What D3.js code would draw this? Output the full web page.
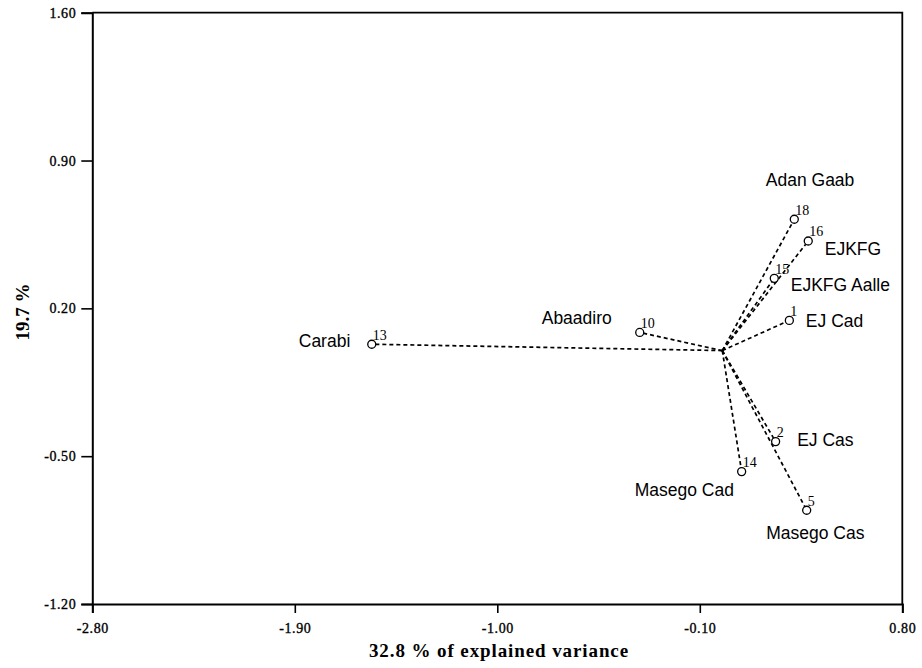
<!DOCTYPE html>
<html>
<head>
<meta charset="utf-8">
<script src="https://cdn.jsdelivr.net/npm/d3@7/dist/d3.min.js"></script>
<style>
  html, body { margin: 0; padding: 0; background: #fff; }
  svg { display: block; }
</style>
</head>
<body>
<svg id="chart" width="922" height="668"></svg>
<script>
// ---- data ----
const ids    = ["13", "10", "18", "16", "15", "1", "2", "14", "5"];
const names  = ["Carabi", "Abaadiro", "Adan Gaab", "EJKFG", "EJKFG Aalle", "EJ Cad", "EJ Cas", "Masego Cad", "Masego Cas"];
const pc1    = [-1.558, -0.367, 0.320, 0.382, 0.231, 0.298, 0.237, 0.086, 0.375];
const pc2    = [0.030, 0.086, 0.622, 0.519, 0.342, 0.143, -0.431, -0.573, -0.756];
const xTicks = [-2.80, -1.90, -1.00, -0.10, 0.80];
const xTickLabels = ["-2.80", "-1.90", "-1.00", "-0.10", "0.80"];
const yTicks = [-1.20, -0.50, 0.20, 0.90, 1.60];
const yTickLabels = ["-1.20", "-0.50", "0.20", "0.90", "1.60"];
const xTitle = "32.8 % of explained variance";
const yTitle = "19.7 %";

// ---- layout (pixels) ----
const labelOffset = {
  "13": [-73, 2.5], "10": [-98, -8.5], "18": [-28.5, -33.3], "16": [16.5, 14],
  "15": [16.5, 12.4], "1": [16.5, 6.4], "2": [21.5, 4], "14": [-107, 24.3], "5": [-40.5, 28.7]
};

const svg = d3.select("#chart");
const x = d3.scaleLinear().domain([-2.8, 0.8]).range([92.3, 902.3]);
const y = d3.scaleLinear().domain([-1.2, 1.6]).range([604, 12.7]);

const serif = "'Liberation Serif', 'Times New Roman', serif";
const sans = "'Liberation Sans', Arial, sans-serif";

// frame (top + right)
svg.append("path")
  .attr("d", `M${x(-2.8)},${y(1.6)}H${x(0.8)}V${y(-1.2)}`)
  .attr("fill", "none").attr("stroke", "#000").attr("stroke-width", 1.8);

// minor ticks
const xMinor = d3.range(0, 21).map(i => -2.8 + i * 0.18);
const yMinor = d3.range(0, 21).map(i => -1.2 + i * 0.14);

const gx = svg.append("g").attr("transform", `translate(0,${y(-1.2)})`);
gx.call(d3.axisBottom(x).tickValues(xMinor).tickSize(5).tickFormat(""));
gx.call(d3.axisBottom(x).tickValues(xTicks).tickSize(9).tickPadding(10)
  .tickFormat((d, i) => xTickLabels[i]));
gx.selectAll("path.domain").attr("stroke-width", 2);
gx.selectAll("line").attr("stroke-width", 1.6);
gx.selectAll("text").attr("font-family", serif).attr("font-size", 14)
  .attr("letter-spacing", 0.6).attr("fill", "#000")
  .attr("stroke", "#000").attr("stroke-width", 0.35);

const gy = svg.append("g").attr("transform", `translate(${x(-2.8)},0)`);
gy.call(d3.axisLeft(y).tickValues(yMinor).tickSize(7).tickFormat(""));
gy.call(d3.axisLeft(y).tickValues(yTicks).tickSize(11).tickPadding(5)
  .tickFormat((d, i) => yTickLabels[i]));
gy.selectAll("path.domain").attr("stroke-width", 2);
gy.selectAll("line").attr("stroke-width", 1.6);
gy.selectAll("text").attr("font-family", serif).attr("font-size", 14)
  .attr("letter-spacing", 0.6).attr("fill", "#000")
  .attr("stroke", "#000").attr("stroke-width", 0.35);

// axis titles
svg.append("text").attr("x", 499).attr("y", 657)
  .attr("text-anchor", "middle").attr("font-family", serif).attr("font-weight", "bold")
  .attr("font-size", 19).attr("letter-spacing", 0.9).attr("fill", "#000").text(xTitle);
svg.append("text").attr("transform", "translate(29,312) rotate(-90)")
  .attr("text-anchor", "middle").attr("font-family", serif).attr("font-weight", "bold")
  .attr("font-size", 19).attr("fill", "#000").text(yTitle);

// vectors
const pts = ids.map((id, i) => ({ id, name: names[i], x: pc1[i], y: pc2[i] }));
svg.append("g").selectAll("line").data(pts).join("line")
  .attr("x1", x(0)).attr("y1", y(0))
  .attr("x2", d => x(d.x)).attr("y2", d => y(d.y))
  .attr("stroke", "#000").attr("stroke-width", 1.7).attr("stroke-dasharray", "4,3");

// points
svg.append("g").selectAll("circle").data(pts).join("circle")
  .attr("cx", d => x(d.x)).attr("cy", d => y(d.y)).attr("r", 4)
  .attr("fill", "#fff").attr("stroke", "#000").attr("stroke-width", 1.3);

// numbers
svg.append("g").selectAll("text").data(pts).join("text")
  .attr("x", d => x(d.x) + 1).attr("y", d => y(d.y) - 4.5)
  .attr("font-family", serif).attr("font-size", 14).attr("fill", "#000")
  .text(d => d.id);

// names
svg.append("g").selectAll("text").data(pts).join("text")
  .attr("x", d => x(d.x) + labelOffset[d.id][0])
  .attr("y", d => y(d.y) + labelOffset[d.id][1])
  .attr("font-family", sans).attr("font-size", 17.5).attr("fill", "#000")
  .text(d => d.name);
</script>
</body>
</html>
